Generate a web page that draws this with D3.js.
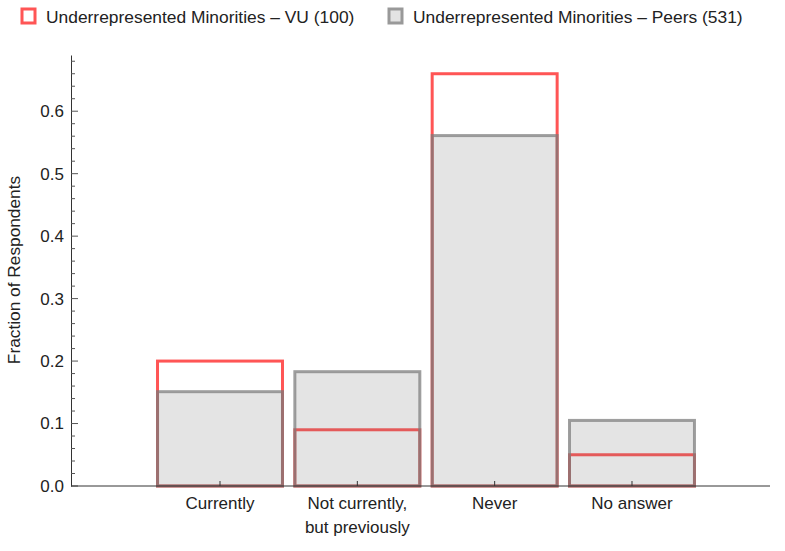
<!DOCTYPE html>
<html><head><meta charset="utf-8">
<script src="https://cdn.jsdelivr.net/npm/d3@7"></script>
<style>body{margin:0;background:#fff}svg{font-family:"Liberation Sans",Arial,sans-serif}</style>
</head><body>
<svg id="c" width="785" height="551"></svg>
<script>
const categories = ["Currently", "Not currently,\nbut previously", "Never", "No answer"];
const vuValues = [0.20, 0.09, 0.66, 0.05];
const peerValues = [0.151, 0.183, 0.561, 0.105];
const seriesNames = ["Underrepresented Minorities \u2013 VU (100)", "Underrepresented Minorities \u2013 Peers (531)"];
const yTicks = [0, 0.1, 0.2, 0.3, 0.4, 0.5, 0.6];

const svg = d3.select("#c");
const x = d3.scaleLinear().domain([-0.085, 5.005]).range([71, 770]);
const y = d3.scaleLinear().domain([0, 0.69]).range([486, 55]);
const barW = 0.91;
const FS = 17;

// Y axis
const yAxis = d3.axisLeft(y).tickValues(yTicks).tickFormat(d3.format(".1f")).tickSize(0).tickPadding(7);
const gy = svg.append("g").attr("transform", "translate(71,0)").call(yAxis);
gy.select(".domain").attr("stroke", "#333");
gy.selectAll("text").attr("font-size", FS).attr("fill", "#222").attr("font-family", "Liberation Sans, Arial, sans-serif");
const minor = d3.range(0, 0.69, 0.02);
gy.selectAll("line.mt").data(minor).enter().append("line")
  .attr("x1", 0).attr("x2", d => (Math.abs(d * 10 - Math.round(d * 10)) < 1e-6) ? 7 : 4)
  .attr("y1", d => y(d)).attr("y2", d => y(d)).attr("stroke", "#555").attr("stroke-width", 1);

// Bars (VU first, peers overlay)
const idx = d3.range(categories.length);
svg.append("g").selectAll("rect").data(idx).enter().append("rect")
  .attr("x", i => x(i + 1 - barW / 2)).attr("width", i => x(i + 1 + barW / 2) - x(i + 1 - barW / 2))
  .attr("y", i => y(vuValues[i])).attr("height", i => y(0) - y(vuValues[i]))
  .attr("fill", "none").attr("stroke", "#ff5555").attr("stroke-width", 3);
svg.append("g").selectAll("rect").data(idx).enter().append("rect")
  .attr("x", i => x(i + 1 - barW / 2)).attr("width", i => x(i + 1 + barW / 2) - x(i + 1 - barW / 2))
  .attr("y", i => y(peerValues[i])).attr("height", i => y(0) - y(peerValues[i]))
  .attr("fill", "rgba(111,111,111,0.19)").attr("stroke", "rgba(122,122,122,0.72)").attr("stroke-width", 3);

// X axis
const gx = svg.append("g").attr("transform", "translate(0,486)");
gx.append("line").attr("x1", 71).attr("x2", 770).attr("stroke", "#333");
gx.selectAll("line.t").data(idx).enter().append("line")
  .attr("x1", i => x(i + 1)).attr("x2", i => x(i + 1)).attr("y1", 0).attr("y2", -5).attr("stroke", "#333");
gx.selectAll("text").data(idx).enter().append("text")
  .attr("x", i => x(i + 1)).attr("y", 23).attr("text-anchor", "middle").attr("font-size", FS).attr("fill", "#222")
  .each(function (i) {
    const lines = categories[i].split("\n");
    d3.select(this).selectAll("tspan").data(lines).enter().append("tspan")
      .attr("x", x(i + 1)).attr("dy", (d, k) => k === 0 ? 0 : 24).text(d => d);
  });

// Y title
svg.append("text").attr("transform", "translate(20,270) rotate(-90)").attr("text-anchor", "middle")
  .attr("font-size", 17.3).attr("fill", "#222").text("Fraction of Respondents");

// Legend
const leg = [
  {x: 22, stroke: "#ff5555", fill: "#fff"},
  {x: 389, stroke: "#999", fill: "#e3e3e3"}
];
leg.forEach((l, k) => {
  svg.append("rect").attr("x", l.x).attr("y", 9).attr("width", 13).attr("height", 14)
    .attr("fill", l.fill).attr("stroke", l.stroke).attr("stroke-width", 3);
  svg.append("text").attr("x", l.x + 24).attr("y", 23).attr("font-size", 17.4).attr("fill", "#222").text(seriesNames[k]);
});
</script>
</body></html>
